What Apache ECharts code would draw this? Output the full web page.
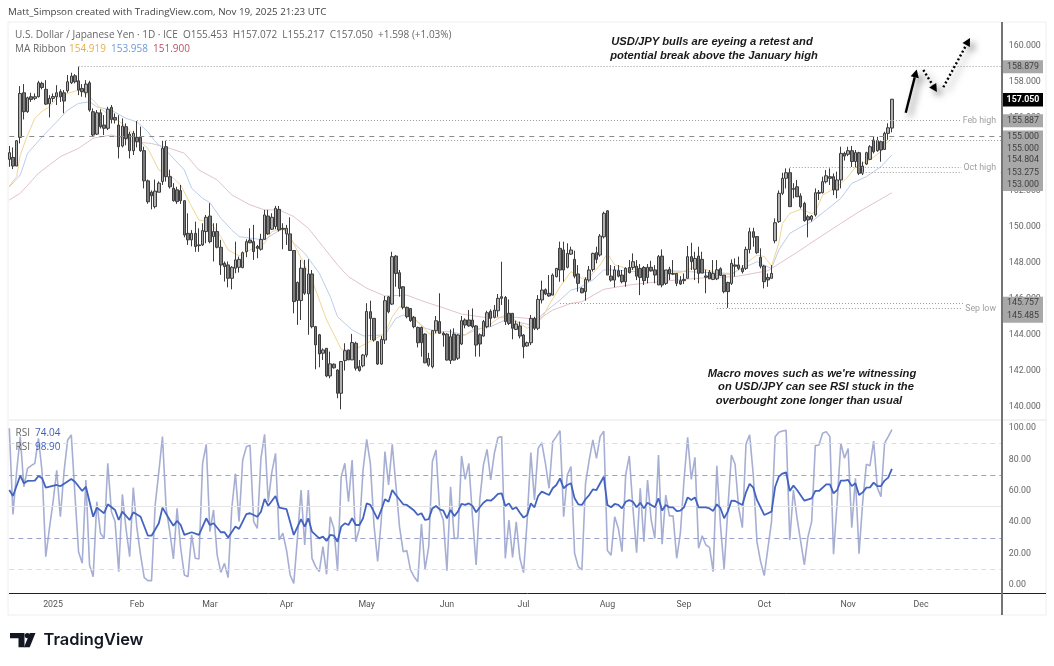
<!DOCTYPE html>
<html><head><meta charset="utf-8">
<style>html,body{margin:0;padding:0;background:#fff}#c{width:1054px;height:666px}</style>
<script src="https://cdn.jsdelivr.net/npm/echarts@6/dist/echarts.min.js"></script></head>
<body><div id="c"></div>
<script>
const tickIndex=[12,35,55,76,98,120,141,164,185,207,230,250];
const tickLabels=['2025','Feb','Mar','Apr','May','Jun','Jul','Aug','Sep','Oct','Nov','Dec'];
const priceTicks=[140,142,144,146,148,150,152,154,156,158,160];
const rsiTicks=[0,20,40,60,80,100];
const open=[153.72,153.83,153.35,154.94,157.41,156.36,157.19,157.1,157.19,157.93,
157.6,156.8,157.1,157.19,157.47,157.41,157.52,157.96,158.35,158.07,
157.65,157.41,157.96,156.36,155.12,156.3,155.62,155.44,156.6,156.04,
155.62,154.46,155.53,155.12,154.2,154.94,154.94,154.2,152.53,151.9,
151.1,151.9,152.49,154.42,152.76,152.12,152.03,151.99,151.43,149.62,
149.26,149.62,148.98,148.98,149.72,150.58,149.44,149.72,148.85,147.96,
147.87,147.13,147.69,147.74,147.72,148.61,149.25,149.16,148.89,148.74,
149.29,150.58,149.85,150,150.95,149.9,149.59,149.59,148.67,145.9,
145.9,147.69,146.27,147.37,144.45,144,142.98,143.25,141.72,142.37,
142.05,140.76,142.57,143.16,142.61,143.53,142.24,142.28,142.88,145.28,
144.91,143.62,142.38,143.71,146.1,145.7,148.36,147.44,146.66,145.52,
145.46,144.97,144.41,144.41,144.04,142.32,142.23,144.23,144.73,144.08,
144.04,142.57,144.04,142.7,143.49,144.82,144.82,144.82,144.49,144,
143.93,144.45,145.3,144.97,145.33,146.11,146.07,145.19,145.19,144.3,
144.49,143.99,143.38,143.56,144.91,144.36,145.93,146.5,146.3,146.2,
147.22,148.79,148.7,147.74,148.47,148.18,147.37,146.57,146.39,147.03,
147.62,148.55,148.42,149.43,150.87,147.25,147.03,147.55,147.31,146.94,
147.73,147.73,147.8,147.68,147.73,147.18,147.74,147.59,146.76,148.36,
146.85,147.63,147.4,147.4,147,147,147.13,148.33,147.63,148.36,
148.18,147.26,147.47,147.07,147.1,147.66,147.31,146.9,146.85,147.87,
147.87,147.68,147.68,148.73,149.71,149.44,148.29,147.81,147.18,147.13,
149.21,150.27,151.84,152.67,152.98,152.1,152.2,151.69,151.28,150.54,
150.4,150.64,151.89,151.87,152.48,152.76,152.76,152.02,152.58,154.05,
154,154.2,153.6,154.09,152.95,153.46,153.72,154.79,154.2,154.7,
154.27,155.16,155.453];
const close=[154.09,153.35,154.75,157.37,156.36,157.13,157.04,157.19,157.96,157.7,
156.78,157.1,157.2,157.41,157.19,156.95,158.02,158.33,158.02,157.56,
157.47,157.89,156.45,155.07,156.3,155.53,155.44,156.5,155.93,155.9,
154.42,155.56,154.88,154.2,155.16,154.7,154.2,152.53,151.37,151.7,
151.96,152.4,154.33,152.76,152.2,151.43,151.38,151.43,149.53,149.26,
149.62,148.89,148.94,149.77,150.51,149.16,149.72,148.85,147.87,147.78,
147.13,147.74,148.15,148.18,148.55,149.16,149.1,148.61,148.79,149.29,
150.64,149.59,150.51,151.01,149.81,149.85,149.9,148.67,145.84,146.9,
147.69,146.3,147.37,144.45,143.44,142.94,143.16,141.72,142.39,142.17,
140.76,142.52,143.12,142.61,143.57,142.15,142.02,142.88,145.29,144.91,
143.71,142.38,143.75,145.89,145.28,148.33,147.4,146.57,145.52,145,
144.78,144.45,143.56,143.56,142.45,142.69,144.23,144.78,144.08,143.99,
142.6,143.89,142.6,143.99,144.78,144.54,144.49,144.45,143.43,143.49,
144.73,145.22,144.91,145.37,146.02,146.02,144.73,144.63,144.36,144.6,
143.93,143.34,143.56,144.91,144.36,145.96,146.48,146.26,146.15,147.31,
147.68,147.59,147.59,148.51,148.7,147.25,146.85,146.33,147.07,147.59,
148.51,148.18,149.47,150.73,147.31,147.03,147.59,147.25,146.94,147.68,
147.44,148.05,147.25,147.18,147,147.74,147.55,147.31,148.33,146.76,
147.59,147.37,147.36,146.85,146.81,147.07,148.33,148.05,148.23,147.4,
147.42,147.19,147.1,147.4,147.6,147.29,146.39,146.39,147.96,147.8,
147.68,147.5,148.73,149.71,149.4,148.55,147.8,146.94,147.04,147.4,
150.21,151.84,152.67,152.98,151.1,152.06,151.65,151.1,150.32,150.36,
150.58,151.87,151.84,152.48,152.81,152.67,152.02,152.58,154.05,153.9,
154.2,153.6,154.09,152.95,153.35,154.09,154.42,154.14,154.76,154.24,
155.16,155.47,157.05];
const high=[154.46,154.38,154.79,157.78,157.89,157.19,157.41,157.37,158.07,158.02,
158.11,157.28,157.37,157.83,157.6,157.56,158.39,158.52,158.44,158.85,
157.89,158.11,158.07,156.54,156.45,156.49,156.17,156.63,156.73,156.27,
156.17,155.99,155.71,155.25,155.3,155.84,155.53,154.42,152.6,152,
152.6,152.5,154.75,154.75,153.15,152.4,152.2,152.3,151.45,150.73,
149.8,150.27,149.9,150.18,150.64,151.29,150.18,150.18,149.26,148.06,
148.06,147.8,149.16,148.33,148.61,149.29,149.9,150.09,148.98,149.59,
150.92,150.92,150.73,151.14,151.14,150.18,150.09,150.51,148.7,146.95,
148.15,148.15,148.18,147.59,144.49,144.05,143.25,143.25,143.07,142.42,
142.09,142.55,143.53,143.16,144.05,143.62,142.6,142.94,145.75,145.89,
144.91,143.62,143.93,146.15,146.15,148.6,148.42,147.59,146.7,145.56,
145.46,145.04,144.45,144.45,144.08,143,144.26,145.04,146.3,144.17,
144.08,144.3,144.36,144.04,145.04,144.91,145.37,145.46,144.54,144.08,
144.82,145.33,145.41,145.65,146.26,148.05,146.15,145.96,145.19,144.78,
144.73,144.04,143.62,145.1,145,146.2,147,146.57,147.31,147.4,
147.68,149.16,149.16,149.07,148.88,148.66,147.86,146.63,147.18,147.81,
148.55,148.88,149.58,150.82,150.91,147.86,147.81,147.86,147.59,147.74,
148.14,148.51,148.14,147.92,147.81,147.92,148.1,147.86,148.42,148.73,
147.59,147.77,148.14,147.4,147.25,147.4,148.92,149.1,148.6,148.88,
148.6,147.61,147.59,148.14,148.14,147.74,147.31,146.94,148.18,148.23,
148.33,147.86,148.88,149.93,149.93,149.47,148.79,147.86,147.4,147.86,
150.45,152,152.98,153.22,153.22,152.4,152.58,151.84,151.37,150.64,
150.64,152.11,152.02,152.76,153.13,153.22,152.94,153.04,154.42,154.14,
154.42,154.46,154.24,154.14,153.59,154.14,154.51,155,154.97,154.7,
155.25,155.72,157.072];
const low=[153.31,153.18,153.35,154.6,155.93,156.3,156.9,157,157.15,157.6,
156.73,156.04,156.9,156.73,156.9,156.27,157.41,157.89,157.93,157.28,
157.19,157.15,156.36,155.01,155.07,155.43,155.07,155.34,155.71,155.71,
153.77,154.38,154.5,153.77,153.96,154.38,154.14,152.11,151.26,150.95,
151,151.9,152.3,152.49,152.1,151.38,151.25,151.25,149.4,148.98,
148.9,148.6,148.6,148.92,149.07,149.07,148.06,148.79,147.32,146.95,
146.63,146.52,147.41,147.45,147.69,148.3,149.07,148.15,148.24,148.66,
149.26,149.53,149.81,149.85,149.72,148.74,148.98,148.67,145.19,144.55,
144.82,146.21,144,144.36,142.09,142.2,142.6,141.65,141.59,142.13,
140.48,139.87,142.02,142.6,142.6,142.02,141.96,142.2,142.75,143.71,
143.62,142.33,142.33,143.49,145.19,145.65,146.66,146.11,145.41,144.91,
144.72,144.36,143.3,142.79,142.42,142.23,142.14,144.08,144.08,143.34,
142.57,142.38,142.57,142.6,143.43,144.36,144.45,144.36,142.79,142.79,
143.9,144.36,144.45,144.91,145,145.65,144.54,144.54,143.75,144.26,
143.8,142.7,143.34,143.43,144.26,144.26,145.74,146.2,146.11,146.2,
147.18,146.94,146.94,147.68,148.42,147.13,146.39,146.3,145.89,146.94,
147.5,147.96,148.33,149.34,147.31,146.94,146.63,147.18,146.85,146.66,
147.4,147.59,147.03,146.2,146.76,146.85,147.5,146.85,146.76,146.63,
146.76,147.03,147.31,146.7,146.76,146.81,147.13,147.59,147.03,146.85,
147.42,146.3,147.1,147.03,147.03,147.26,146.3,145.49,146.76,147.22,
147.59,147.4,147.59,148.51,148.88,148.48,147.68,146.57,146.66,147.13,
149.07,150.2,151.74,152.11,151.1,151.56,151.65,151,150.27,149.4,
150.27,150.55,151.47,151.83,152.39,152.3,151.74,151.56,152.11,153.65,
153.9,153.3,153.28,152.85,152.85,153.41,153.68,154.05,154.14,153.59,
154.24,154.8,155.217];
const maFastBars=[0,2,3,5,7,9,11,13,16,19,21,23,25,28,31,33,35,38,41,44,47,50,52,55,58,60,63,66,70,72,75,77,80,83,87,90,91,94,98,103,105,107,109,111,115,116,118,122,125,128,131,134,136,138,140,142,146,148,151,154,157,159,162,164,166,170,174,178,184,188,193,198,202,205,207,209,211,212,214,217,220,221,223,227,230,232,236,239,240,242];
const maFastVals=[152.24,152.76,153.96,155.06,155.99,156.39,156.63,157.1,157.37,157.56,157.37,157,156.54,156.08,155.71,155.34,154.88,154.33,153.13,152.86,152.3,151.1,150.36,150.27,149.44,148.7,148.37,148.7,149.07,149.72,149.9,149.44,148.24,147.04,144.82,143.62,143.2,143.12,143.53,144.08,145,145.56,145.46,144.91,144.08,143.99,144.2,143.7,144,144.27,144.45,144.9,145.1,144.9,144.63,144.36,144.9,145.65,146.66,147.5,147.13,147.18,147.87,148.5,147.87,147.63,147.68,147.59,147.44,147.77,147.5,147.3,147.96,148.42,148.33,147.81,149.07,150.17,150.72,150.95,150.72,150.82,151.74,152.2,152.76,153.3,153.7,154.15,154.5,154.92];
const maMidBars=[0,3,5,9,13,16,19,22,24,28,32,35,38,40,44,48,50,53,55,58,61,63,66,70,72,75,78,81,85,88,90,94,97,103,106,108,111,114,118,121,125,127,132,136,139,143,147,151,154,156,160,163,166,171,181,191,198,202,205,207,209,211,214,218,220,224,228,231,235,239,242];
const maMidVals=[152.2,152.85,154.05,154.97,155.8,156.45,156.82,156.91,156.63,156.45,155.99,155.8,155.25,154.7,154,153.13,152.12,151.56,151.32,150.46,149.81,149.44,149.35,149.26,149.53,149.9,149.07,148.52,147.41,146.12,145,144.27,143.94,143.99,144.91,145.1,144.91,144.36,144.17,144.17,143.99,144.27,144.45,144.82,144.73,144.54,145.28,145.93,146.48,146.58,147.04,147.59,147.6,147.5,147.55,147.45,147.4,147.77,148.05,147.86,147.68,148.7,149.62,150.08,150.27,150.91,151.56,152.39,152.76,153.31,153.96];
const maSlowBars=[0,3,8,14,19,23,28,34,39,44,48,52,57,61,66,70,74,78,82,86,90,93,98,103,109,113,118,124,130,139,145,149,154,157,163,170,178,185,189,192,199,208,217,221,228,233,242];
const maSlowVals=[151.47,151.84,152.95,153.87,154.33,154.89,155.07,154.7,154.6,154.33,154.06,153.13,152.58,151.75,151.2,150.92,150.92,150.55,149.9,148.89,147.87,147.22,146.58,146.15,146.2,145.89,145.56,145.15,144.97,144.97,144.85,145.37,145.74,145.83,146.52,146.76,146.94,147.07,147.13,147.18,147.22,147.55,148.7,149.25,150.17,150.82,151.87];
const rsiFast=[99.8,45,72,94.5,62.6,74.3,76,77.5,93.4,72,
18,36,53,73,43.5,72,92.4,95.6,57.3,21,
13.8,66.9,12.8,5.3,53,33,29.7,77.5,46.7,40.4,
8.5,57.8,36,18,62,36,19,4.7,2.8,2.8,
51,72,94.5,48.9,34,16.6,48.9,23.4,6.4,5.3,
31.9,17,16.6,77.5,89.6,34,47.8,19,8,13.8,
4.7,48.9,71,40.4,79.6,88,89,40.4,36,80.7,
96,53,72,83.9,28.7,33,22.3,6.4,1,29.7,
60.5,25.5,60.5,17,11.7,8.5,24.4,6.8,43.5,36,
9,69,77.5,53,79.6,27.6,36,73.3,92.8,77.5,
38,15,41.4,85,63.7,89.6,63.7,37,21.2,21.9,
9.6,5.3,2.1,38.9,10,24.4,78.6,86,47.8,41.4,
9.1,62.6,29.7,29.7,82.2,67.3,77.5,43.5,12.7,54.1,
76.4,86.4,66.9,83.9,94,94.5,17,41.4,17.6,40.3,
17,7.9,41.4,84.3,54.1,87,90.7,77.5,61.6,91.3,
94.5,98.3,43.5,70,75.4,20.2,11.7,9.6,64.8,79.6,
92.4,80.7,94.5,98,21.9,19,43.5,36,21.2,70,
82.2,48.8,20.6,61.6,27.6,66.9,41.4,29.7,82.8,26,
57.3,44,44,17,33,66.9,94,67.3,81.3,23.4,
31.4,25.5,24,8.5,76,38,10,47.8,82.8,76.9,
48.9,36.5,90,95.6,70,27.6,14.9,6,23.4,40.4,
94.5,97.3,98.1,98.5,28.7,60.5,42.5,27.6,12.8,30.8,
40.4,88.8,89.2,96.6,97.7,94.5,19.6,53,90.3,80.7,
87,36.5,68,20,53,76.9,76,91.7,62,56.3,
90.3,94.5,98.9];
const rsiSlowBars=[0,1,3,4,5,7,8,9,10,13,14,17,18,20,21,23,24,26,27,29,30,31,33,34,36,38,39,41,42,44,45,46,47,48,50,52,54,55,56,58,59,60,62,63,65,66,68,69,70,71,73,74,76,78,80,81,82,83,85,86,87,88,89,90,91,92,93,94,95,96,97,98,99,101,102,103,104,105,106,108,109,111,112,113,114,115,116,117,118,119,120,121,122,123,124,125,126,127,128,129,130,131,132,133,134,135,136,137,138,139,140,141,142,143,144,145,146,148,149,150,151,152,153,154,155,156,157,158,159,160,161,162,163,164,165,166,167,168,169,170,171,172,173,174,175,176,177,178,179,180,181,182,183,184,185,186,187,188,189,191,192,193,194,195,196,197,198,199,201,202,203,204,205,207,209,210,211,212,213,214,215,216,218,220,221,222,224,225,226,227,228,229,230,231,232,233,234,235,236,237,238,239,240,241,242];
const rsiSlowVals=[60.5,56.7,69.6,64.8,66.3,66.5,69.4,68,62,63.7,62.9,67.5,65.8,59.9,62.6,43.5,49.3,45.7,51.4,47.8,41.4,46.7,41.4,46.3,43.5,31.4,31.4,39.3,49.3,41.4,37.8,40.8,38.2,31.9,33.6,31.9,42.5,38.2,39.3,33.6,33.6,30.2,37.2,35.7,45.2,45.7,43.5,46.7,54.8,50.5,56.7,49.3,48.4,31.9,42,37.2,42.5,34,29.7,30.8,28,31.9,31.4,27.6,37.2,39.3,38.2,42.5,38.2,38.2,42.5,52,51,42,47.8,54.6,53,60.5,57.3,51.4,51,47.4,44.6,45.7,41.4,42,48.8,50.3,48.2,47.4,42.5,47.8,43.9,46.7,51.6,51,52,50.3,46.3,49.5,52.4,54.1,53.7,55.6,58,58.4,50.3,52,48.2,49.5,46,42.9,44.6,52,49.5,56.7,59.5,57.3,61.6,63.7,67.9,61.6,63.7,64.8,55.2,51.4,51,54.6,57.3,60.9,60.5,64.8,69,51,49.5,51.6,51,48.8,53,54.1,53,49.5,52.4,48.8,52.4,51,49.5,55.2,47.4,51,49.5,49.5,47.1,47.4,49.5,55.8,54.1,55.8,49.5,49.5,48.8,47.2,51.4,48.9,42.5,46.7,53.7,53.5,51,59,64.4,62,54.2,44.6,46.7,62.6,69,71,71.8,59.9,63.3,60.5,53.7,55.2,59.9,59.9,64.1,64.1,58.4,60.5,66.5,66.5,66.9,63,64.8,57.3,59,62,62.2,65.2,63,63,66.5,68.4,74];
const levelVals=[158.879,155.887,155,154.804,153.275,153,145.757,145.485];
const levelFrom=[19,35,0,43,214,234,151,194];
const levelTo=[272,261,272,272,261,272,272,261];
const levelStyle=['dotted','dotted','dashed','dotted','dotted','dotted','dotted','dotted'];
const rsiBands=[90,70,50,30,10];
const rsiBandStyle=['dashed','dashed','solid','dashed','dashed'];
const rsiBandColor=['#dcdcdc','#9aa3d0','#e6e6e6','#9aa3d0','#dcdcdc'];
const tagTexts=['158.879','155.887','155.000','155.000','154.804','153.275','153.000','145.757','145.485'];
const tagY=[66.7,120.7,136.7,148.7,160.3,173,185,303.3,316.3];
const lastPrice='157.050';

const N=273;
const categories=Array.from({length:N},(_,i)=>{const k=tickIndex.indexOf(i);return k>=0?tickLabels[k]:'';});
const candle=open.map((o,i)=>[o,close[i],low[i],high[i]]);
const zip=(b,v)=>b.map((x,i)=>[x,v[i]]);
const TF='"Open Sans",Roboto,sans-serif';
const AXF='Roboto,sans-serif';
const AF='"Liberation Sans",Arial,sans-serif';
const hdr='#555';
function txt(x,y,s,o){return {type:'text',x,y,silent:true,z:50,style:Object.assign({text:s,font:'10px '+TF,fill:hdr,textVerticalAlign:'middle'},o||{})};}
const g=[];
g.push({type:'rect',shape:{x:8,y:22,width:1038,height:593},style:{fill:'none',stroke:'#eeeeee',lineWidth:1},silent:true,z:1});
g.push({type:'line',shape:{x1:9,y1:420,x2:1046,y2:420},style:{stroke:'#e6e6e6',lineWidth:1},silent:true,z:1});
g.push({type:'line',shape:{x1:9,y1:593.5,x2:1046,y2:593.5},style:{stroke:'#222',lineWidth:1},silent:true,z:30});
g.push({type:'line',shape:{x1:1002,y1:22,x2:1002,y2:615},style:{stroke:'#757575',lineWidth:2},silent:true,z:30});
g.push(txt(8,12,'Matt_Simpson created with TradingView.com, Nov 19, 2025 21:23 UTC',{font:'9.8px '+TF,fill:'#444'}));
g.push(txt(15,35,'U.S. Dollar / Japanese Yen · 1D · ICE  O155.453  H157.072  L155.217  C157.050  +1.598 (+1.03%)',{fill:'#666'}));
g.push(txt(15,49,'MA Ribbon',{fill:'#666'}));
g.push(txt(69,49,'154.919',{fill:'#e8b04a'}));
g.push(txt(111,49,'153.958',{fill:'#6a9bd8'}));
g.push(txt(153,49,'151.900',{fill:'#c05068'}));
g.push(txt(15.5,433,'RSI',{fill:'#666'}));
g.push(txt(35,433,'74.04',{fill:'#3f5fb8'}));
g.push(txt(15.5,447,'RSI',{fill:'#666'}));
g.push(txt(35,447,'98.90',{fill:'#3f5fb8'}));
const note={font:'italic bold 11.2px '+AF,fill:'#1a1a1a',textAlign:'center'};
g.push(txt(712,42,'USD/JPY bulls are eyeing a retest and',note));
g.push(txt(714,56,'potential break above the January high',note));
g.push(txt(812,374,"Macro moves such as we're witnessing",note));
g.push(txt(816,387,'on USD/JPY can see RSI stuck in the',note));
g.push(txt(809,401,'overbought zone longer than usual',note));
const cap={font:'8.8px '+AXF,fill:'#a0a0a0',textAlign:'right'};
g.push({type:'rect',shape:{x:962,y:114,width:38,height:13},style:{fill:'#fff'},silent:true,z:20});
g.push({type:'rect',shape:{x:962,y:161,width:38,height:13},style:{fill:'#fff'},silent:true,z:20});
g.push({type:'rect',shape:{x:964,y:302,width:36,height:13},style:{fill:'#fff'},silent:true,z:20});
g.push(txt(996,120.5,'Feb high',cap));
g.push(txt(996,168,'Oct high',cap));
g.push(txt(996,309,'Sep low',cap));
g.push({type:'rect',shape:{x:1003,y:60.2,width:40,height:13},style:{fill:'#a8a8a8'},silent:true,z:40});
g.push({type:'rect',shape:{x:1003,y:114.2,width:40,height:13},style:{fill:'#a8a8a8'},silent:true,z:40});
g.push({type:'rect',shape:{x:1003,y:130.5,width:40,height:60.5},style:{fill:'#a8a8a8'},silent:true,z:40});
g.push({type:'rect',shape:{x:1003,y:296.7,width:40,height:26},style:{fill:'#a8a8a8'},silent:true,z:40});
g.push({type:'rect',shape:{x:1003,y:93,width:40,height:13.5},style:{fill:'#000'},silent:true,z:40});
tagTexts.forEach((t,i)=>g.push(txt(1023,tagY[i],t,{font:'8.8px '+AXF,fill:'#3f3f3f',textAlign:'center'})));
g.push(txt(1023,99.8,lastPrice,{font:'bold 8.8px '+AXF,fill:'#fff',textAlign:'center'}));
const shadow={shadowColor:'rgba(0,0,0,0.55)',shadowBlur:7,shadowOffsetX:4,shadowOffsetY:4};
function arrow(x1,y1,x2,y2,dash){
  const a=Math.atan2(y2-y1,x2-x1),L=8,W=4.2;
  const bx=x2-L*Math.cos(a),by=y2-L*Math.sin(a);
  g.push({type:'line',shape:{x1,y1,x2:bx,y2:by},silent:true,z:35,style:Object.assign({stroke:'#000',lineWidth:2.4,lineDash:dash||null},shadow)});
  g.push({type:'polygon',shape:{points:[[x2,y2],[bx-W*Math.sin(a),by+W*Math.cos(a)],[bx+W*Math.sin(a),by-W*Math.cos(a)]]},silent:true,z:35,style:Object.assign({fill:'#000'},shadow)});
}
arrow(905.7,112.7,916.7,69.5);
arrow(923.3,70,936.9,92,[2,2.4]);
arrow(943.3,87.3,970,38,[2,2.4]);
g.push({type:'polygon',shape:{points:[[10,633],[24.5,633],[24.5,647.3],[18.5,647.3],[18.5,638.3],[10,638.3]]},style:{fill:'#131722'},silent:true,z:50});
g.push({type:'circle',shape:{cx:27.3,cy:635.6,r:2.6},style:{fill:'#131722'},silent:true,z:50});
g.push({type:'polygon',shape:{points:[[29.8,633],[35.5,633],[29.7,647.3],[24,647.3]]},style:{fill:'#131722'},silent:true,z:50});
g.push(txt(43.5,640.5,'TradingView',{font:'600 16.4px Inter,'+TF,fill:'#131722'}));

const option={
 animation:false,backgroundColor:'#fff',
 grid:[{left:9.3,top:22,width:992,height:396},{left:9.3,top:420,width:992,height:173}],
 xAxis:[
  {type:'category',gridIndex:0,data:categories,boundaryGap:false,show:false},
  {type:'category',gridIndex:1,data:categories,boundaryGap:false,axisLine:{show:false},axisTick:{show:false},
   axisLabel:{interval:(i)=>tickIndex.includes(i),hideOverlap:false,color:'#555',fontSize:8.8,fontFamily:AXF,margin:7}}
 ],
 yAxis:[
  {type:'value',gridIndex:0,position:'right',min:139.39,max:161.33,axisLine:{show:false},axisTick:{show:false},splitLine:{show:false},
   axisLabel:{customValues:priceTicks,formatter:v=>v.toFixed(3),color:'#666',fontSize:8.8,fontFamily:AXF,margin:7.5}},
  {type:'value',gridIndex:1,position:'right',min:-5.1,max:105.1,axisLine:{show:false},axisTick:{show:false},splitLine:{show:false},
   axisLabel:{customValues:rsiTicks,formatter:v=>v.toFixed(2),color:'#666',fontSize:8.8,fontFamily:AXF,margin:7.5}}
 ],
 series:[
  {type:'line',xAxisIndex:0,yAxisIndex:0,data:zip(maSlowBars,maSlowVals),symbol:'none',lineStyle:{color:'#e3c3ca',width:1},z:2,silent:true},
  {type:'line',xAxisIndex:0,yAxisIndex:0,data:zip(maMidBars,maMidVals),symbol:'none',lineStyle:{color:'#bccde9',width:1},z:2,silent:true},
  {type:'line',xAxisIndex:0,yAxisIndex:0,data:zip(maFastBars,maFastVals),symbol:'none',lineStyle:{color:'#f2d596',width:1},z:2,silent:true},
  {type:'candlestick',xAxisIndex:0,yAxisIndex:0,data:candle,barWidth:3,z:3,silent:true,
   itemStyle:{color:'#b0b0b0',color0:'#7a7a7a',borderColor:'#3c3c3c',borderColor0:'#3c3c3c',borderWidth:1},
   markLine:{silent:true,symbol:'none',animation:false,label:{show:false},
    data:levelVals.map((v,i)=>[
     {coord:[levelFrom[i],v],lineStyle:levelStyle[i]==='dashed'?{type:[5,5],color:'#8a8a8a',width:1}:{type:[1,2],color:'#9a9a9a',width:1}},
     {coord:[levelTo[i],v]}])}},
  {type:'line',xAxisIndex:1,yAxisIndex:1,data:rsiFast,symbol:'none',lineStyle:{color:'#a6afd3',width:1.6},z:4,silent:true,
   markLine:{silent:true,symbol:'none',animation:false,label:{show:false},
    data:rsiBands.map((v,i)=>({yAxis:v,lineStyle:{type:rsiBandStyle[i]==='solid'?'solid':[5,4],color:rsiBandColor[i],width:1}}))}},
  {type:'line',xAxisIndex:1,yAxisIndex:1,data:zip(rsiSlowBars,rsiSlowVals),symbol:'none',lineStyle:{color:'#4263bf',width:1.8},z:5,silent:true}
 ],
 graphic:g
};
const chart=echarts.init(document.getElementById('c'),null,{renderer:'canvas'});
chart.setOption(option);
</script></body></html>
